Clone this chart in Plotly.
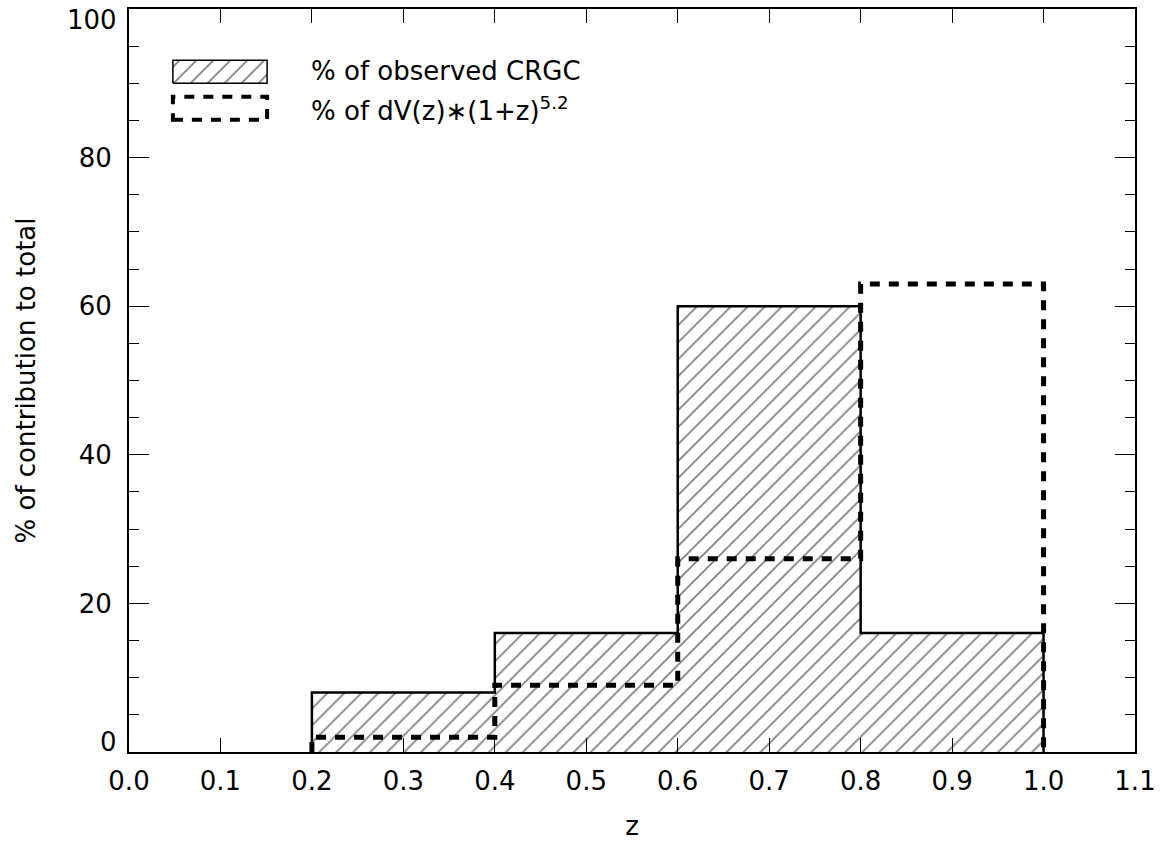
import plotly.graph_objects as go

bin_edges = [0.2, 0.4, 0.6, 0.8, 1.0]
observed_pct = [8, 16, 60, 16]
volume_pct = [2, 9, 26, 63]
legend_labels = ["% of observed CRGC", "% of dV(z)∗(1+z)<sup>5.2</sup>"]
x_ticks = [round(0.1 * i, 1) for i in range(12)]
y_ticks = [0, 20, 40, 60, 80, 100]

FONT = "DejaVu Sans"
FS = 26


def step_xy(edges, vals):
    xs = [edges[0], edges[0]] + edges[1:-1] + [edges[-1], edges[-1]]
    ys = [0] + vals + [vals[-1], 0]
    return xs, ys


hatch = dict(shape="/", size=12, solidity=0.14, fgcolor="black", bgcolor="white")

fig = go.Figure()

ox, oy = step_xy(bin_edges, observed_pct)
fig.add_trace(go.Scatter(
    x=ox, y=oy, mode="lines", line=dict(color="black", width=2.5, shape="hv"),
    fill="tozeroy", fillcolor="rgba(0,0,0,0)", fillpattern=hatch,
    showlegend=False, hoverinfo="skip"))

vx, vy = step_xy(bin_edges, volume_pct)
fig.add_trace(go.Scatter(
    x=vx, y=vy, mode="lines", line=dict(color="black", width=5, shape="hv", dash="10px,9px"),
    showlegend=False, hoverinfo="skip"))

# legend swatches (layout decoration)
lx0, lx1 = 0.048, 0.151
fig.add_trace(go.Scatter(
    x=[lx0, lx1, lx1, lx0, lx0], y=[90.0, 90.0, 93.1, 93.1, 90.0], mode="lines",
    line=dict(color="black", width=1.5), fill="toself", fillcolor="rgba(0,0,0,0)",
    fillpattern=hatch, showlegend=False, hoverinfo="skip"))
fig.add_shape(type="rect", x0=lx0, x1=lx1, y0=85.1, y1=88.2,
              line=dict(color="black", width=4, dash="10px,9px"))

fig.add_annotation(x=0.197, y=91.6, text=legend_labels[0], showarrow=False,
                   xanchor="left", yanchor="middle", font=dict(family=FONT, size=FS, color="black"))
fig.add_annotation(x=0.197, y=86.6, text=legend_labels[1], showarrow=False,
                   xanchor="left", yanchor="middle", font=dict(family=FONT, size=FS, color="black"))

# end y tick labels nudged inward (as in the reference)
end_labels = {y_ticks[0]: 10, y_ticks[-1]: -11}
for val, shift in end_labels.items():
    fig.add_annotation(xref="paper", x=0, y=val, text=str(val), showarrow=False,
                       xanchor="right", yanchor="middle", xshift=-10, yshift=shift,
                       font=dict(family=FONT, size=FS, color="black"))

fig.update_layout(
    width=1164, height=842,
    margin=dict(l=129, r=29, t=9, b=90, autoexpand=False),
    paper_bgcolor="white", plot_bgcolor="white",
    font=dict(family=FONT, size=FS, color="black"),
)
fig.update_xaxes(
    range=[0, 1.1], tickvals=x_ticks, ticktext=[f"{v:.1f}" for v in x_ticks],
    ticks="inside", ticklen=14, tickwidth=1, tickcolor="black",
    showline=True, linecolor="black", linewidth=2, mirror="ticks",
    showgrid=False, zeroline=False, ticklabelstandoff=5, ticklabeloverflow="allow",
    automargin=False,
    title=dict(text="z", font=dict(size=FS), standoff=22),
)
fig.update_yaxes(
    range=[0, 100], tickvals=[v for v in y_ticks if v not in end_labels],
    ticks="inside", ticklen=20, tickwidth=1, tickcolor="black",
    minor=dict(tick0=0, dtick=5, ticks="inside", ticklen=10, tickwidth=1, tickcolor="black",
               showgrid=False),
    showline=True, linecolor="black", linewidth=2, mirror="ticks",
    showgrid=False, zeroline=False, ticklabelstandoff=10, ticklabeloverflow="allow",
    automargin=False,
    title=dict(text="% of contribution to total", font=dict(size=FS), standoff=36),
)

fig.write_html("out.html", config={"displayModeBar": False},
               post_script="document.body.style.margin='0px';")
